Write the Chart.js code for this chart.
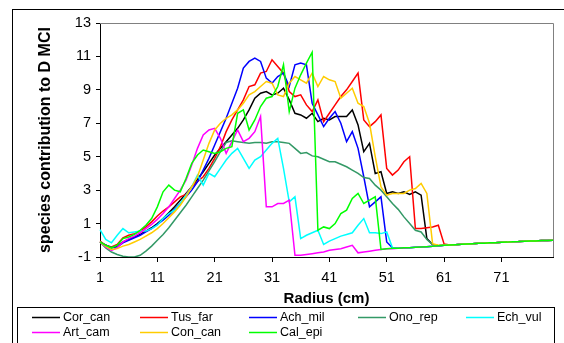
<!DOCTYPE html>
<html>
<head>
<meta charset="utf-8">
<script src="https://cdn.jsdelivr.net/npm/chart.js@4.4.0/dist/chart.umd.min.js"></script>
<style>
  html, body { margin: 0; padding: 0; background: #fff; }
  #wrap { width: 564px; height: 343px; }
</style>
</head>
<body>
<div id="wrap"><canvas id="chart" width="564" height="343"></canvas></div>
<script>
// Radius categories (cm)
const radius = [1,2,3,4,5,6,7,8,9,10,11,12,13,14,15,16,17,18,19,20,
  21,22,23,24,25,26,27,28,29,30,31,32,33,34,35,36,37,38,39,40,
  41,42,43,44,45,46,47,48,49,50,51,52,53,54,55,56,57,58,59,60,
  61,62,63,64,65,66,67,68,69,70,71,72,73,74,75,76,77,78,79,80];
const xTickLabels = [1, 11, 21, 31, 41, 51, 61, 71];

const corCan = [
  -0.1,-0.3,-0.45,-0.35,-0.1,0.05,0.2,0.35,0.55,0.75,
  1.0,1.3,1.65,2.0,2.4,2.8,3.2,3.65,4.1,4.6,
  5.1,5.5,5.9,6.3,6.7,7.2,7.8,8.5,8.8,8.9,
  8.7,8.8,9.1,8.4,7.6,7.5,7.3,7.6,7.1,7.3,
  7.2,7.4,7.4,7.4,7.8,6.9,5.3,5.8,4.0,4.1,
  2.8,2.9,2.8,2.9,2.75,2.9,2.7,0.1,-0.25,-0.32,
  -0.3,-0.28,-0.26,-0.24,-0.22,-0.2,-0.18,-0.17,-0.15,-0.14,
  -0.12,-0.11,-0.09,-0.08,-0.06,-0.05,-0.04,-0.02,-0.01,0.0];
const tusFar = [
  -0.05,-0.3,-0.4,-0.25,0.15,0.3,0.4,0.55,0.8,1.1,
  1.45,1.75,2.0,2.3,2.6,2.75,3.2,3.5,3.8,4.3,
  4.9,5.6,6.5,7.2,7.8,8.4,9.2,9.3,10.0,10.1,
  10.8,10.4,10.0,8.9,8.6,8.7,8.1,7.7,8.4,7.1,
  7.6,8.1,8.6,9.0,9.5,10.0,7.2,6.8,7.1,7.5,
  4.3,3.9,4.2,4.7,5.0,0.7,0.7,0.75,0.8,0.9,
  -0.22,-0.28,-0.26,-0.24,-0.22,-0.2,-0.18,-0.17,-0.15,-0.14,
  -0.12,-0.11,-0.09,-0.08,-0.06,-0.05,-0.04,-0.02,-0.01,0.0];
const achMil = [
  -0.1,-0.3,-0.45,-0.4,-0.15,0.0,0.15,0.3,0.5,0.7,
  0.95,1.2,1.5,1.85,2.2,2.6,3.0,3.5,4.2,4.9,
  5.7,6.5,7.3,8.2,9.1,10.3,10.7,10.9,10.7,9.7,
  9.4,9.8,10.0,9.2,10.5,10.6,10.5,8.2,7.5,6.8,
  7.3,7.7,7.0,5.9,6.5,5.5,3.8,2.0,2.3,2.6,
  -0.1,-0.45,-0.47,-0.45,-0.44,-0.42,-0.4,-0.38,-0.36,-0.33,
  -0.3,-0.28,-0.26,-0.24,-0.22,-0.2,-0.18,-0.17,-0.15,-0.14,
  -0.12,-0.11,-0.09,-0.08,-0.06,-0.05,-0.04,-0.02,-0.01,0.0];
const onoRep = [
  -0.1,-0.45,-0.7,-0.85,-0.95,-1.0,-1.0,-0.9,-0.65,-0.35,
  0.0,0.35,0.75,1.2,1.65,2.1,2.6,3.1,3.6,4.15,
  4.7,5.3,5.85,5.95,5.9,5.85,5.8,5.85,5.85,5.8,
  5.9,5.9,5.85,5.8,5.5,5.2,5.25,5.05,5.0,4.85,
  4.7,4.7,4.55,4.4,4.2,4.0,3.75,3.7,3.3,3.0,
  2.6,2.2,1.85,1.4,1.0,0.6,0.5,0.05,-0.25,-0.33,
  -0.3,-0.28,-0.26,-0.24,-0.22,-0.2,-0.18,-0.17,-0.15,-0.14,
  -0.12,-0.11,-0.09,-0.08,-0.06,-0.05,-0.04,-0.02,-0.01,0.0];
const echVul = [
  0.64,0.05,-0.15,0.3,0.7,0.45,0.5,0.55,0.55,0.7,
  0.9,1.3,1.6,1.8,2.2,2.7,3.2,3.9,3.3,4.0,
  3.8,4.3,4.8,5.2,5.5,4.9,4.3,4.8,5.0,5.4,
  5.8,6.1,4.3,2.3,2.6,0.1,0.3,0.45,0.6,-0.25,
  -0.05,0.1,0.25,0.35,0.45,0.9,1.3,0.45,0.45,0.4,
  0.5,-0.45,-0.47,-0.45,-0.44,-0.42,-0.4,-0.38,-0.36,-0.33,
  -0.3,-0.28,-0.26,-0.24,-0.22,-0.2,-0.18,-0.17,-0.15,-0.14,
  -0.12,-0.11,-0.09,-0.08,-0.06,-0.05,-0.04,-0.02,-0.01,0.0];
const artCam = [
  -0.1,-0.4,-0.6,-0.45,-0.1,0.1,0.25,0.45,0.7,0.95,
  1.25,1.6,2.0,2.5,3.0,3.6,4.5,5.5,6.3,6.6,
  6.7,6.1,5.2,5.9,6.6,5.9,6.1,6.5,7.4,2.0,
  2.0,2.2,2.2,2.4,-0.9,-0.9,-0.85,-0.8,-0.75,-0.7,
  -0.6,-0.55,-0.5,-0.4,-0.3,-0.75,-0.7,-0.65,-0.6,-0.55,
  -0.5,-0.5,-0.48,-0.46,-0.44,-0.42,-0.4,-0.38,-0.36,-0.33,
  -0.3,-0.28,-0.26,-0.24,-0.22,-0.2,-0.18,-0.17,-0.15,-0.14,
  -0.12,-0.11,-0.09,-0.08,-0.06,-0.05,-0.04,-0.02,-0.01,0.0];
const conCan = [
  -0.1,-0.35,-0.55,-0.5,-0.35,-0.25,-0.1,0.05,0.25,0.45,
  0.7,1.0,1.35,1.7,2.1,2.6,3.2,3.8,4.8,5.8,
  6.6,7.0,7.3,7.5,7.8,8.2,8.7,8.9,9.2,9.5,
  9.4,8.7,8.6,9.4,9.8,9.6,9.4,10.0,9.2,9.8,
  9.6,9.5,8.5,8.8,9.1,8.2,8.0,7.0,5.0,3.2,
  2.7,2.8,2.8,2.8,3.0,3.1,3.4,2.8,-0.2,-0.3,
  -0.3,-0.28,-0.26,-0.24,-0.22,-0.2,-0.18,-0.17,-0.15,-0.14,
  -0.12,-0.11,-0.09,-0.08,-0.06,-0.05,-0.04,-0.02,-0.01,0.0];
const calEpi = [
  -0.1,-0.3,-0.45,-0.3,0.1,0.2,0.35,0.6,0.9,1.3,
  2.0,2.9,3.3,3.0,2.9,3.7,4.6,5.1,5.4,5.3,
  5.2,5.3,5.5,5.6,7.6,7.8,6.6,7.2,8.0,8.5,
  8.6,9.2,10.5,7.7,9.1,9.9,10.6,11.25,0.6,0.8,
  0.7,1.0,1.6,1.8,2.5,2.8,2.2,2.4,2.6,-0.55,
  -0.5,-0.48,-0.47,-0.45,-0.44,-0.42,-0.4,-0.38,-0.36,-0.33,
  -0.3,-0.28,-0.26,-0.24,-0.22,-0.2,-0.18,-0.17,-0.15,-0.14,
  -0.12,-0.11,-0.09,-0.08,-0.06,-0.05,-0.04,-0.02,-0.01,0.0];

const seriesNames = ['Cor_can', 'Tus_far', 'Ach_mil', 'Ono_rep', 'Ech_vul', 'Art_cam', 'Con_can', 'Cal_epi'];
const seriesValues = [corCan, tusFar, achMil, onoRep, echVul, artCam, conCan, calEpi];
const seriesColors = ['#000000', '#ff0000', '#0000ff', '#339966', '#00ffff', '#ff00ff', '#ffcc00', '#00ff00'];

const FONT = 'Arial, "Liberation Sans", sans-serif';
Chart.defaults.font.family = FONT;
Chart.defaults.color = '#000';

// frame, plot border and the boxed legend, Excel style
const excelFrame = {
  id: 'excelFrame',
  afterDraw(chart) {
    const ctx = chart.ctx;
    const a = chart.chartArea;
    ctx.save();
    ctx.lineWidth = 1;
    ctx.strokeStyle = '#808080';
    ctx.beginPath();
    ctx.moveTo(a.left, a.top + 0.5);
    ctx.lineTo(a.right + 0.5, a.top + 0.5);
    ctx.lineTo(a.right + 0.5, a.bottom);
    ctx.stroke();

    ctx.strokeStyle = '#000';
    ctx.strokeRect(12.5, 9.5, 700, 400);
    ctx.strokeRect(17.5, 307.5, 537, 60);

    const cols = [32, 140, 249, 358, 466];
    const rows = [317, 332];
    ctx.font = '12.5px ' + FONT;
    ctx.textBaseline = 'middle';
    ctx.textAlign = 'left';
    chart.data.datasets.forEach((ds, i) => {
      const x = cols[i % 5];
      const y = rows[Math.floor(i / 5)];
      ctx.strokeStyle = ds.borderColor;
      ctx.lineWidth = 1.5;
      ctx.beginPath();
      ctx.moveTo(x, y + 0.5);
      ctx.lineTo(x + 28, y + 0.5);
      ctx.stroke();
      ctx.fillStyle = '#000';
      ctx.fillText(ds.label, x + 31, y + 1);
    });
    ctx.restore();
  }
};

const datasets = seriesNames.map((name, i) => ({
  label: name,
  data: seriesValues[i],
  borderColor: seriesColors[i],
  backgroundColor: seriesColors[i],
  borderWidth: 1.5,
  pointRadius: 0,
  tension: 0,
  fill: false,
  order: seriesNames.length - i
}));

new Chart(document.getElementById('chart'), {
  type: 'line',
  data: { labels: radius, datasets: datasets },
  options: {
    responsive: false,
    animation: false,
    devicePixelRatio: 1,
    layout: { padding: { left: 0, top: 23, right: 11, bottom: 32 } },
    plugins: {
      legend: { display: false },
      tooltip: { enabled: false }
    },
    scales: {
      x: {
        type: 'category',
        offset: false,
        afterFit: scale => { scale.height = 54; },
        ticks: {
          autoSkip: false,
          maxRotation: 0,
          padding: 7,
          font: { size: 14.5 },
          callback: function(val, i) {
            return xTickLabels.includes(radius[i]) ? String(radius[i]) : '';
          }
        },
        grid: {
          drawOnChartArea: false,
          tickLength: 5,
          color: ctx => (ctx.index % 10 === 0 ? '#000' : 'rgba(0,0,0,0)')
        },
        border: { color: '#000', width: 1 },
        title: {
          display: true,
          text: 'Radius (cm)',
          font: { size: 15, weight: 'bold' },
          padding: { top: 0, bottom: 3 }
        }
      },
      y: {
        min: -1,
        max: 13,
        afterFit: scale => { scale.width = 100; },
        ticks: {
          stepSize: 2,
          padding: 5,
          font: { size: 14.5 }
        },
        grid: {
          drawOnChartArea: false,
          tickLength: 4,
          color: '#000'
        },
        border: { color: '#000', width: 1 },
        title: {
          display: true,
          text: 'species contribution to D MCI',
          font: { size: 16, weight: 'bold' },
          padding: { top: 36, bottom: 0 }
        }
      }
    }
  },
  plugins: [excelFrame]
});
</script>
</body>
</html>
